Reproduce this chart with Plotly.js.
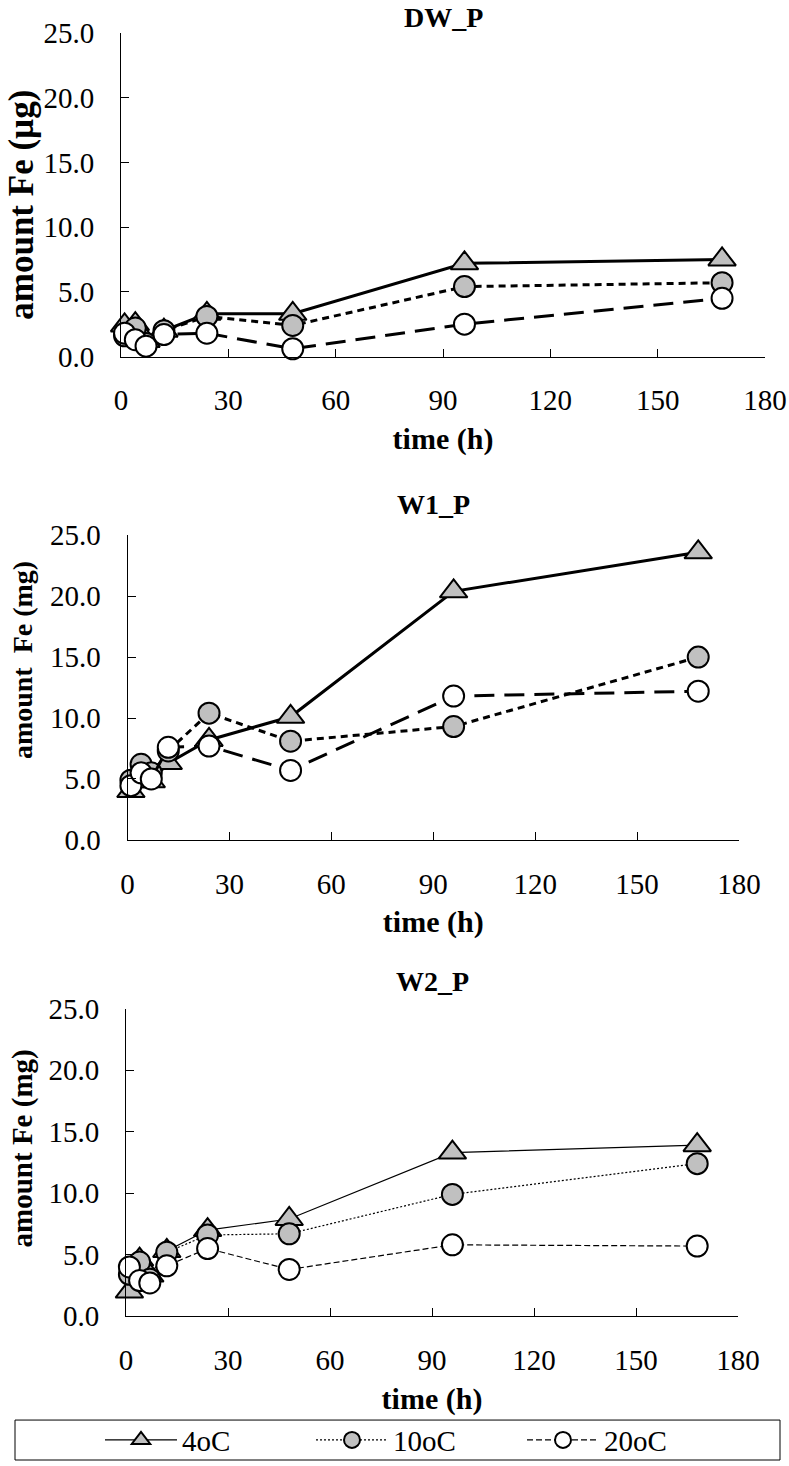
<!DOCTYPE html>
<html><head><meta charset="utf-8">
<script src="https://cdn.plot.ly/plotly-3.0.1.min.js"></script>
<style>html,body{margin:0;padding:0;background:#fff}</style>
</head><body><div id="chart" style="width:789px;height:1466px"></div>
<script>
// sampling times (h)
const time = [1, 4, 7, 12, 24, 48, 96, 168];
const seriesNames = ['4oC', '10oC', '20oC'];
const panelTitles = ['DW_P', 'W1_P', 'W2_P'];
const yTitles = ['amount Fe (µg)', 'amount  Fe (mg)', 'amount Fe (mg)'];
const xTitle = 'time (h)';
const xTicks = [0, 30, 60, 90, 120, 150, 180];
const yTicks = [0, 5, 10, 15, 20, 25];

// DW_P (µg)
const dw_4C  = [2.4, 2.5, 1.2, 2.0, 3.3, 3.3, 7.2, 7.5];
const dw_10C = [1.6, 2.2, 1.0, 2.0, 3.1, 2.4, 5.4, 5.7];
const dw_20C = [1.8, 1.3, 0.8, 1.7, 1.8, 0.6, 2.5, 4.5];
// W1_P (mg)
const w1_4C  = [4.0, 4.8, 4.8, 6.3, 8.2, 10.1, 20.4, 23.6];
const w1_10C = [4.9, 6.2, 5.5, 7.3, 10.4, 8.1, 9.3, 15.0];
const w1_20C = [4.45, 5.5, 5.0, 7.6, 7.7, 5.7, 11.8, 12.2];
// W2_P (mg)
const w2_4C  = [2.0, 4.6, 3.3, 5.3, 7.0, 7.9, 13.3, 13.9];
const w2_10C = [3.4, 4.4, 3.0, 5.2, 6.6, 6.7, 9.9, 12.4];
const w2_20C = [4.0, 2.9, 2.7, 4.1, 5.5, 3.8, 5.8, 5.7];

const panels = [[dw_4C, dw_10C, dw_20C], [w1_4C, w1_10C, w1_20C], [w2_4C, w2_10C, w2_20C]];

const W = 789, H = 1466;
// pixel boxes of the three plot areas [left, right, top, bottom]
const boxes = [[121, 765, 33, 357], [127.5, 739, 536, 841], [126, 738, 1010, 1318]];
const titleY = [18, 505, 983];          // panel title centres (px)
const yTitleY = [205, 661, 1150];       // y-axis title centres (px)
const yTitleSize = [35, 28, 29];
const lineWidths = [3, 3, 1.2];
const dashes = [
  ['solid', '7px,5px', '20px,10px'],
  ['solid', '7px,5px', '20px,10px'],
  ['solid', '2px,2px', '6px,3px']
];
const symbols = ['triangle-up', 'circle', 'circle'];
const fills = ['#c0c0c0', '#c0c0c0', '#ffffff'];
const sizes = [24, 21, 21];
const FONT = 'Liberation Serif';

const traces = [];
const layout = {
  width: W, height: H,
  margin: {l: 0, r: 0, t: 0, b: 0},
  paper_bgcolor: '#fff', plot_bgcolor: 'rgba(0,0,0,0)',
  font: {family: FONT, color: '#000', size: 29},
  showlegend: true,
  legend: {
    orientation: 'h', x: 100 / W, xanchor: 'left', y: 1 - 1442 / H, yanchor: 'middle',
    entrywidth: 124, entrywidthmode: 'pixels', itemwidth: 72,
    font: {family: FONT, size: 29, color: '#000'},
    bgcolor: 'rgba(0,0,0,0)', borderwidth: 0, traceorder: 'normal'
  },
  annotations: [],
  shapes: [{type: 'rect', xref: 'paper', yref: 'paper', x0: 15 / W, x1: 780 / W,
            y0: 1 - 1462 / H, y1: 1 - 1422 / H, line: {color: '#000', width: 1}, fillcolor: 'rgba(0,0,0,0)'}]
};

panels.forEach((vals, p) => {
  const sfx = p === 0 ? '' : String(p + 1);
  const b = boxes[p];
  vals.forEach((v, s) => {
    traces.push({
      type: 'scatter', mode: 'lines+markers', x: time, y: v, name: seriesNames[s],
      xaxis: 'x' + sfx, yaxis: 'y' + sfx,
      showlegend: p === 2, cliponaxis: false,
      line: {color: '#000', width: lineWidths[p], dash: dashes[p][s]},
      marker: {symbol: symbols[s], size: sizes[s], color: fills[s], line: {color: '#000', width: 2}}
    });
  });
  layout['xaxis' + sfx] = {
    domain: [b[0] / W, b[1] / W], anchor: 'y' + sfx, range: [0, 180],
    tickmode: 'array', tickvals: xTicks, ticktext: xTicks.map(String),
    ticks: 'inside', ticklen: 8, tickcolor: '#000', tickwidth: 1,
    showline: true, linecolor: '#000', linewidth: 1, showgrid: false, zeroline: false,
    ticklabelstandoff: 18, tickfont: {family: FONT, size: 29, color: '#000'},
    title: {text: '<b>' + xTitle + '</b>', font: {family: FONT, size: 30, color: '#000'}, standoff: 12},
    automargin: false, fixedrange: true
  };
  layout['yaxis' + sfx] = {
    domain: [1 - b[3] / H, 1 - b[2] / H], anchor: 'x' + sfx, range: [0, 25],
    tickmode: 'array', tickvals: yTicks, ticktext: yTicks.map(t => t.toFixed(1)),
    ticks: 'inside', ticklen: 8, tickcolor: '#000', tickwidth: 1,
    showline: true, linecolor: '#000', linewidth: 1, showgrid: false, zeroline: false,
    ticklabelstandoff: 20, tickfont: {family: FONT, size: 29, color: '#000'},
    automargin: false, fixedrange: true
  };
  layout.annotations.push({
    text: '<b>' + panelTitles[p] + '</b>', xref: 'paper', yref: 'paper',
    x: (b[0] + b[1]) / 2 / W, y: 1 - titleY[p] / H, xanchor: 'center', yanchor: 'middle',
    showarrow: false, font: {family: FONT, size: 28, color: '#000'}
  });
  layout.annotations.push({
    text: '<b>' + yTitles[p] + '</b>', xref: 'paper', yref: 'paper', textangle: -90,
    x: 22 / W, y: 1 - yTitleY[p] / H, xanchor: 'center', yanchor: 'middle',
    showarrow: false, font: {family: FONT, size: yTitleSize[p], color: '#000'}
  });
});

Plotly.newPlot('chart', traces, layout, {displayModeBar: false, staticPlot: true});
</script>
</body></html>
